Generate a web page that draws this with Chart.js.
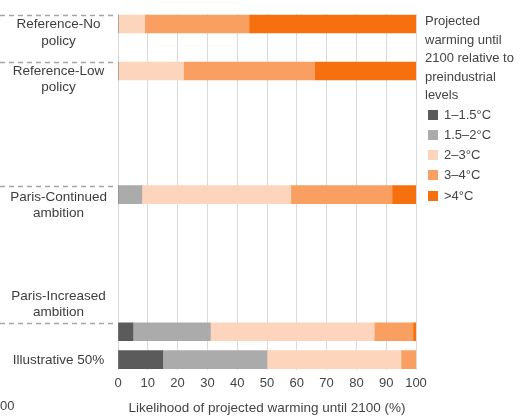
<!DOCTYPE html>
<html>
<head>
<meta charset="utf-8">
<script src="https://cdn.jsdelivr.net/npm/chart.js@4"></script>
<style>
  html, body { margin: 0; padding: 0; background: #fff; overflow: hidden; }
  #wrap { position: relative; width: 520px; height: 416px; }
  #chart { position: absolute; left: 0; top: 0; }
  #legend { position: absolute; left: 425px; top: 12px; font-family: "Liberation Sans", Arial, sans-serif; color: #444; }
  #legend .title { font-size: 13px; line-height: 18.5px; }
  #legend .item { position: relative; height: 20.3px; line-height: 20.3px; font-size: 13px; padding-left: 19px; white-space: nowrap; }
  #legend .item i { position: absolute; left: 3px; top: 5px; width: 10px; height: 10px; }
  #cut { position: absolute; left: 0; top: 398px; font: 13px "Liberation Sans", Arial, sans-serif; color: #444; }
</style>
</head>
<body>
<div id="wrap">
  <canvas id="chart" width="520" height="416"></canvas>
  <div id="legend"></div>
  <div id="cut">00</div>
</div>
<script>
// Scénarios (axe vertical)
const categories = ['Reference-No policy', 'Reference-Low policy', 'Paris-Continued ambition', 'Paris-Increased ambition', 'Illustrative 50%'];
const categoryLines = [['Reference-No', 'policy'], ['Reference-Low', 'policy'], ['Paris-Continued', 'ambition'], ['Paris-Increased', 'ambition'], ['Illustrative 50%']];

// Classes de réchauffement
const classes = ['1–1.5°C', '1.5–2°C', '2–3°C', '3–4°C', '>4°C'];
const classColors = ['#5b5b5b', '#ababab', '#fdd4bc', '#f99f62', '#f6700f'];

// Probabilité (%) par classe, dans l'ordre des scénarios
const warm1to15 = [0, 0, 0, 5, 15];
const warm15to2 = [0, 0, 8, 26, 35];
const warm2to3 = [9, 22, 50, 55, 45];
const warm3to4 = [35, 44, 34, 13, 5];
const warmAbove4 = [56, 34, 8, 1, 0];

const xTicks = [0, 10, 20, 30, 40, 50, 60, 70, 80, 90, 100];
const xTitle = 'Likelihood of projected warming until 2100 (%)';
const legendTitle = ['Projected', 'warming until', '2100 relative to', 'preindustrial', 'levels'];

// Mise en page verticale (échelle 0-100 de haut en bas)
const rowPos = [2.8, 16.0, 50.7, 89.2, 97.05];
const labelPos = [5.3, 18.4, 53.8, 81.6, 97.2];
const dashedRows = [0, 1, 2, 3];
const BAR = 18;

const series = [warm1to15, warm15to2, warm2to3, warm3to4, warmAbove4];

// Légende HTML
const legendEl = document.getElementById('legend');
legendEl.innerHTML = '<div class="title">' + legendTitle.join('<br>') + '</div>' +
    classes.map((c, i) => '<div class="item"><i style="background:' + classColors[i] + '"></i>' + c.replace('>', '&gt;') + '</div>').join('');

// Lignes pointillées au-dessus des barres
const separators = {
    id: 'separators',
    afterDraw(chart) {
        const ctx = chart.ctx;
        const y = chart.scales.y;
        ctx.save();
        ctx.strokeStyle = '#9ea6ac';
        ctx.lineWidth = 1.5;
        ctx.setLineDash([5, 4]);
        dashedRows.forEach(i => {
            const py = Math.round(y.getPixelForValue(rowPos[i]) - BAR / 2) + 0.5;
            ctx.beginPath();
            ctx.moveTo(0, py);
            ctx.lineTo(113, py);
            ctx.stroke();
        });
        ctx.restore();
    }
};

Chart.defaults.font.family = '"Liberation Sans", Arial, sans-serif';
Chart.defaults.color = '#3d3d3d';

new Chart(document.getElementById('chart').getContext('2d'), {
    type: 'bar',
    data: {
        datasets: series.map((arr, k) => ({
            label: classes[k],
            data: arr.map((v, i) => ({ x: v, y: rowPos[i] })),
            backgroundColor: classColors[k],
            borderWidth: 0,
            barThickness: BAR
        }))
    },
    options: {
        indexAxis: 'y',
        responsive: false,
        animation: false,
        layout: { padding: { left: 0, right: 104, top: 14, bottom: 0 } },
        plugins: {
            legend: { display: false },
            tooltip: { enabled: false }
        },
        scales: {
            x: {
                type: 'linear',
                stacked: true,
                min: 0,
                max: 100,
                afterBuildTicks: scale => { scale.ticks = xTicks.map(v => ({ value: v })); },
                grid: { color: '#dadada', drawTicks: false },
                border: { display: false },
                ticks: { padding: 5, font: { size: 13 }, color: '#444' },
                title: { display: true, text: xTitle, font: { size: 13.5 }, color: '#444', padding: { top: 4, bottom: 0 } }
            },
            y: {
                type: 'linear',
                stacked: true,
                reverse: true,
                offset: false,
                min: 0,
                max: 100,
                afterBuildTicks: scale => { scale.ticks = labelPos.map(v => ({ value: v })); },
                afterFit: scale => {
                    scale.width = 118;
                    scale.paddingTop = 0;
                    scale.paddingBottom = 0;
                },
                grid: { display: false, offset: false },
                border: { display: false },
                ticks: {
                    autoSkip: false,
                    crossAlign: 'center',
                    padding: 3,
                    font: { size: 13.5, lineHeight: 1.2 },
                    color: '#3d3d3d',
                    callback: (value, index) => categoryLines[index]
                }
            }
        }
    },
    plugins: [separators]
});
</script>
</body>
</html>
